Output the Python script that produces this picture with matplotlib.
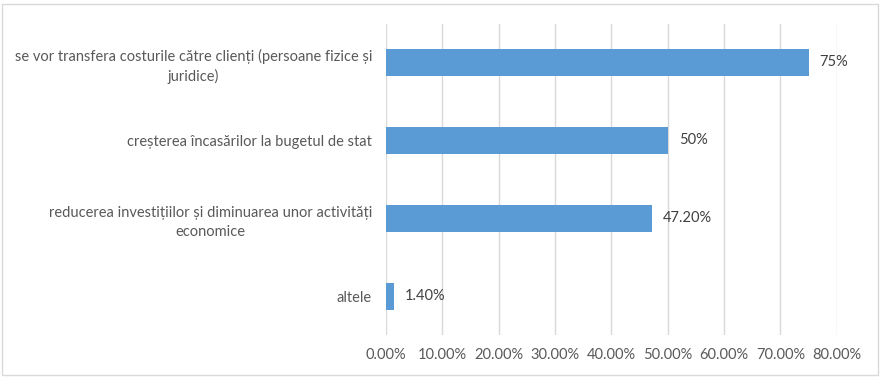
import matplotlib.pyplot as plt
from matplotlib.patches import Rectangle
from matplotlib.ticker import FuncFormatter

categories = ["se vor transfera costurile către clienți (persoane fizice și\njuridice)",
              "creșterea încasărilor la bugetul de stat",
              "reducerea investițiilor și diminuarea unor activități\neconomice",
              "altele"]
values = [0.75, 0.50, 0.472, 0.014]
value_labels = ["75%", "50%", "47.20%", "1.40%"]
xticks = [0.0, 0.1, 0.2, 0.3, 0.4, 0.5, 0.6, 0.7, 0.8]

plt.rcParams['font.family'] = ['Lato', 'DejaVu Sans']
txt = '#595959'

fig = plt.figure(figsize=(8.87, 3.85), dpi=100)
# axes box in pixels: left 386, right 836.7, top 23.5, bottom 335.3
ax = fig.add_axes([386/887, 1 - 335.3/385, (836.7-386)/887, (335.3-23.5)/385])

ypos = list(range(len(categories)))[::-1]
ax.barh(ypos, values, height=0.35, color='#5B9BD5', zorder=3)
for y, v, lab in zip(ypos, values, value_labels):
    ax.annotate(lab, (v, y), xytext=(8, 0), textcoords='offset points',
                va='center', ha='left', fontsize=10.5, color='#404040')

ax.set_xlim(0, 0.8)
ax.set_ylim(-0.5, 3.5)
ax.set_xticks(xticks)
ax.xaxis.set_major_formatter(FuncFormatter(lambda x, p: f"{x*100:.2f}%"))
ax.set_yticks(ypos)
ax.set_yticklabels(categories, multialignment='center', linespacing=1.45)
ax.tick_params(axis='both', length=0, labelsize=10.5, colors=txt)
ax.tick_params(axis='y', pad=10)
ax.tick_params(axis='x', pad=9)
ax.grid(axis='x', color='#D9D9D9', linewidth=1, zorder=0)
for s in ax.spines.values():
    s.set_visible(False)

fig.patches.append(Rectangle((2/887, 1-375/385), 876/887, 371/385, transform=fig.transFigure,
                             fill=False, edgecolor='#D9D9D9', linewidth=1))

fig.savefig('out.png', dpi=100)
